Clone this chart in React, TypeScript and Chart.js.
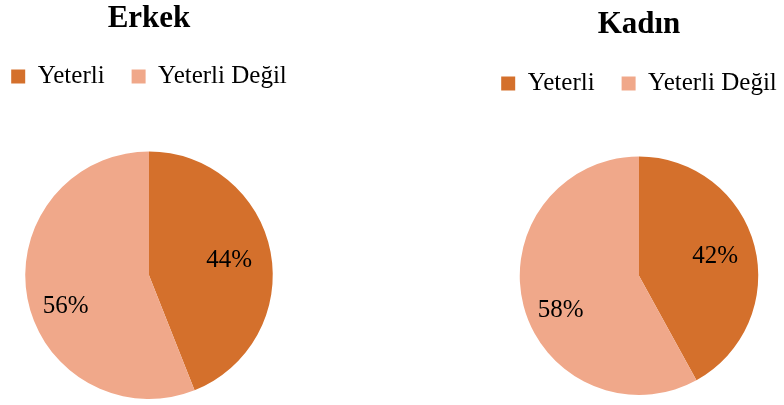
import React, { useEffect, useRef } from 'react';
import { Chart, registerables } from 'chart.js';
Chart.register(...registerables);

const categories = ['Yeterli', 'Yeterli Değil'];
const erkekValues = [44, 56];
const kadinValues = [42, 58];
const chartTitles = ['Erkek', 'Kadın'];
const sliceColors = ['#D4702C', '#F0A88A'];

const FONT = '"Liberation Serif", "Times New Roman", Times, serif';

const labelPlugin = {
  id: 'sliceLabels',
  afterDatasetsDraw(chart: any) {
    const ctx = chart.ctx;
    const meta = chart.getDatasetMeta(0);
    const data = chart.data.datasets[0].data as number[];
    const total = data.reduce((a, b) => a + b, 0);
    ctx.save();
    ctx.font = `25px ${FONT}`;
    ctx.fillStyle = '#000';
    ctx.textAlign = 'center';
    ctx.textBaseline = 'middle';
    meta.data.forEach((arc: any, i: number) => {
      const p = arc.getProps(['startAngle', 'endAngle', 'outerRadius', 'x', 'y'], true);
      const span = p.endAngle - p.startAngle;
      // larger slices: label sits a little further along the slice (best-fit style)
      const mid = (p.startAngle + p.endAngle) / 2 - (span > Math.PI ? 0.17 : 0);
      const r = p.outerRadius * (span > Math.PI ? 0.72 : 0.66);
      ctx.fillText(Math.round((data[i] / total) * 100) + '%', p.x + Math.cos(mid) * r, p.y + Math.sin(mid) * r);
    });
    ctx.restore();
  },
};

type PieProps = {
  values: number[];
  title: string;
  left: number;
  width: number;
  titleTop: number;
  titleBottom: number;
  spacer: number;
  bottomPad: number;
};

function PieChart({ values, title, left, width, titleTop, titleBottom, spacer, bottomPad }: PieProps) {
  const ref = useRef<HTMLCanvasElement>(null);
  useEffect(() => {
    if (!ref.current) return;
    const chart = new Chart(ref.current, {
      type: 'pie',
      data: {
        labels: categories,
        datasets: [
          {
            data: values,
            backgroundColor: sliceColors,
            borderWidth: 0,
          },
        ],
      },
      options: {
        animation: false,
        responsive: false,
        devicePixelRatio: 1,
        layout: { padding: { top: 0, bottom: bottomPad, left: 0, right: 0 } },
        plugins: {
          tooltip: { enabled: false },
          title: {
            display: true,
            text: title,
            color: '#000',
            font: { family: FONT, size: 31, weight: 'bold', lineHeight: 1 },
            padding: { top: titleTop, bottom: titleBottom },
          },
          legend: {
            display: true,
            position: 'top',
            labels: {
              color: '#000',
              font: { family: FONT, size: 25 },
              boxWidth: 14,
              boxHeight: 14,
              padding: 27,
            },
          },
          subtitle: {
            display: true,
            text: '',
            weight: 500,
            font: { size: 10, lineHeight: 1 },
            padding: { top: 0, bottom: spacer - 10 },
          } as any,
        },
      },
      plugins: [labelPlugin],
    });
    return () => chart.destroy();
  }, []);
  return (
    <canvas
      ref={ref}
      width={width}
      height={405}
      style={{ position: 'absolute', left, top: 0, width, height: 405 }}
    />
  );
}

export default function App() {
  return (
    <div
      style={{
        position: 'fixed',
        left: 0,
        top: 0,
        width: 784,
        height: 405,
        overflow: 'hidden',
        background: '#fff',
      }}
    >
      <PieChart values={erkekValues} title={chartTitles[0]} left={-31} width={360} titleTop={3} titleBottom={3} spacer={52.5} bottomPad={6} />
      <PieChart values={kadinValues} title={chartTitles[1]} left={459} width={360} titleTop={9} titleBottom={4} spacer={50.5} bottomPad={10} />
    </div>
  );
}
